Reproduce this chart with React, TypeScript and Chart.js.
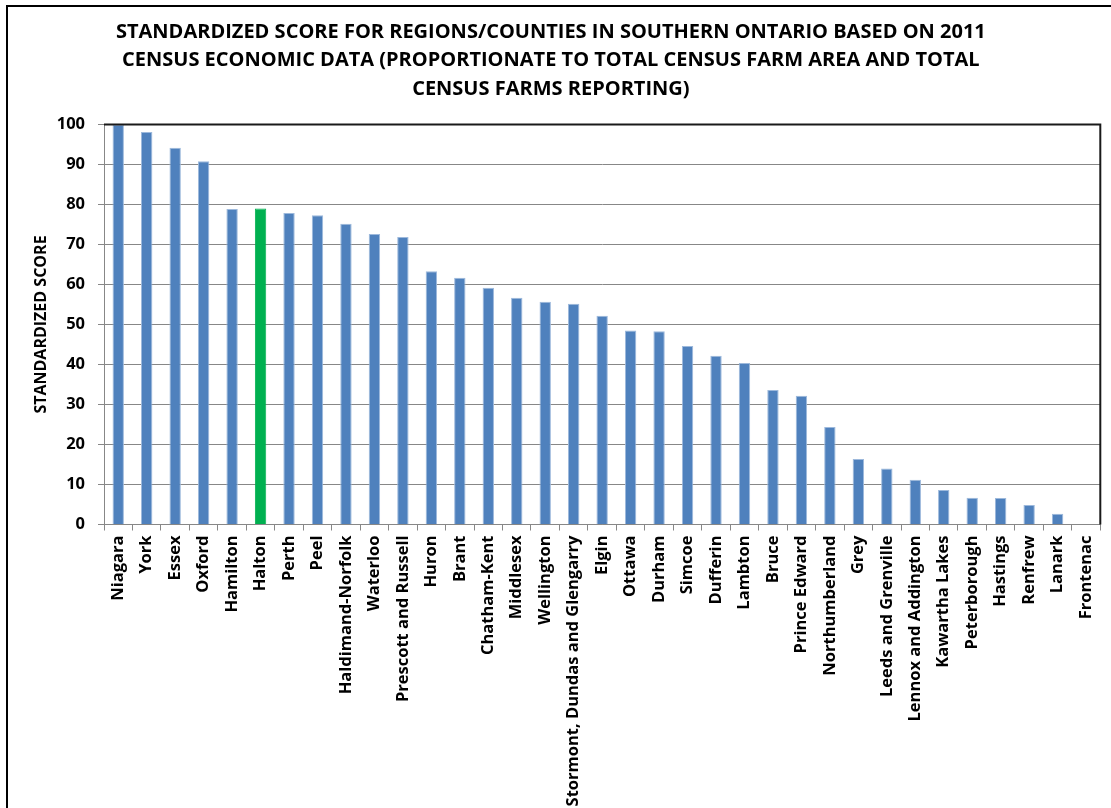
import React, { useEffect, useRef } from "react";
import { Chart, registerables } from "chart.js";

Chart.register(...registerables);

const titleLines = [
  "STANDARDIZED SCORE FOR REGIONS/COUNTIES IN SOUTHERN ONTARIO BASED ON 2011",
  "CENSUS ECONOMIC DATA (PROPORTIONATE TO TOTAL CENSUS FARM AREA AND TOTAL",
  "CENSUS FARMS REPORTING)",
];

const yAxisTitle = "STANDARDIZED SCORE";

const categories = [
  "Niagara", "York", "Essex", "Oxford", "Hamilton", "Halton", "Perth", "Peel",
  "Haldimand-Norfolk", "Waterloo", "Prescott and Russell", "Huron", "Brant",
  "Chatham-Kent", "Middlesex", "Wellington", "Stormont, Dundas and Glengarry",
  "Elgin", "Ottawa", "Durham", "Simcoe", "Dufferin", "Lambton", "Bruce",
  "Prince Edward", "Northumberland", "Grey", "Leeds and Grenville",
  "Lennox and Addington", "Kawartha Lakes", "Peterborough", "Hastings",
  "Renfrew", "Lanark", "Frontenac",
];

const scores = [
  100, 98.1, 94.2, 90.8, 78.9, 79.0, 77.9, 77.3,
  75.2, 72.6, 71.9, 63.3, 61.7,
  59.2, 56.7, 55.7, 55.2,
  52.2, 48.5, 48.3, 44.6, 42.2, 40.4, 33.6,
  32.2, 24.4, 16.4, 14.0,
  11.2, 8.6, 6.7, 6.6,
  4.9, 2.7, 0,
];

const highlighted = "Halton";

const yMin = 0;
const yMax = 100;
const yStep = 10;

const BLUE = "#4F81BD";
const BLUE_EDGE = "#9DB9DC";
const GREEN = "#00B050";
const GRID = "#878787";

const framePlugin = {
  id: "framePlugin",
  afterDraw(chart: any) {
    const { ctx, chartArea } = chart;
    ctx.save();
    // plot area border (top & right)
    ctx.strokeStyle = "#1a1a1a";
    ctx.lineWidth = 2;
    ctx.beginPath();
    ctx.moveTo(chartArea.left, chartArea.top);
    ctx.lineTo(chartArea.right, chartArea.top);
    ctx.lineTo(chartArea.right, chartArea.bottom);
    ctx.stroke();
    // outer chart frame
    ctx.strokeStyle = "#000000";
    ctx.lineWidth = 2;
    ctx.strokeRect(7, 6, 1300, 1000);
    ctx.restore();
  },
};

export default function App() {
  const canvasRef = useRef<HTMLCanvasElement | null>(null);

  useEffect(() => {
    const canvas = canvasRef.current;
    if (!canvas) return;
    const bg = categories.map((c) => (c === highlighted ? GREEN : BLUE));
    const border = categories.map((c) => (c === highlighted ? GREEN : BLUE_EDGE));

    const chart = new Chart(canvas, {
      type: "bar",
      data: {
        labels: categories,
        datasets: [
          {
            label: "Standardized score",
            data: scores,
            backgroundColor: bg,
            borderColor: border,
            borderWidth: 1,
            categoryPercentage: 0.4,
            barPercentage: 1,
          },
        ],
      },
      options: {
        responsive: false,
        animation: false,
        maintainAspectRatio: false,
        layout: { padding: { left: 0, right: 9.3, top: 0, bottom: 0 } },
        plugins: {
          legend: { display: false },
          tooltip: { enabled: false },
          title: {
            display: true,
            text: titleLines,
            color: "#000",
            font: { family: "'Open Sans'", size: 20, weight: "bold", lineHeight: 1.435 },
            padding: { top: 17.6, bottom: 20.8 },
          },
        },
        scales: {
          x: {
            type: "category",
            offset: true,
            grid: {
              offset: true,
              drawOnChartArea: false,
              drawTicks: true,
              tickLength: 6,
              color: GRID,
            },
            border: { display: true, color: GRID, width: 1 },
            ticks: {
              autoSkip: false,
              minRotation: 90,
              maxRotation: 90,
              padding: 5,
              color: "#000",
              font: { family: "'Open Sans'", size: 16.5, weight: "bold" },
            },
            afterFit: (scale: any) => {
              scale.height = 283.5;
            },
          },
          y: {
            min: yMin,
            max: yMax,
            ticks: {
              stepSize: yStep,
              padding: 13,
              color: "#000",
              font: { family: "'Open Sans'", size: 16.5, weight: "bold" },
            },
            grid: {
              color: GRID,
              lineWidth: 1,
              drawTicks: true,
              tickLength: 6,
            },
            border: { display: true, color: GRID, width: 1 },
            title: {
              display: true,
              text: yAxisTitle,
              color: "#000",
              font: { family: "'Open Sans'", size: 16, weight: "bold", lineHeight: 1.2 },
              padding: { top: 31.4, bottom: 0 },
            },
            afterFit: (scale: any) => {
              scale.width = 104;
            },
          },
        },
      },
      plugins: [framePlugin],
    });
    return () => chart.destroy();
  }, []);

  return (
    <div style={{ position: "fixed", left: 0, top: 0, width: 1111, height: 808, background: "#fff", overflow: "hidden" }}>
      <canvas ref={canvasRef} width={1111} height={808} style={{ display: "block" }} />
    </div>
  );
}
